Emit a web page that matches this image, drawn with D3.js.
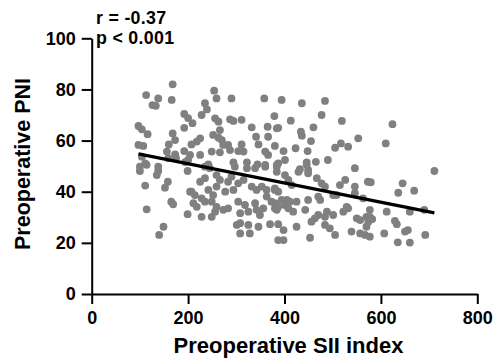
<!DOCTYPE html>
<html>
<head>
<meta charset="utf-8">
<script src="https://cdn.jsdelivr.net/npm/d3@7"></script>
<style>
  body { margin: 0; background: #fff; }
  svg { font-family: "Liberation Sans", Arial, sans-serif; font-weight: bold; }
  .axis path, .axis line { stroke: #000; stroke-width: 2px; }
  .axis text { fill: #000; font-weight: bold; }
  .dot { fill: #808080; }
  .fit { stroke: #000; stroke-width: 3.2px; }
</style>
</head>
<body>
<div id="chart"></div>
<script>
// SII index (x) and PNI (y) for each patient
const sii = [
  168, 113, 138, 166, 126, 133, 192, 200, 97, 104, 116, 192, 168, 173, 160, 97, 107, 192, 156, 173,
  175, 104, 111, 100, 138, 159, 200, 254, 259, 290, 358, 235, 239, 228, 256, 263, 287, 294, 311, 379,
  209, 266, 332, 365, 384, 252, 263, 270, 273, 283, 287, 341, 366, 225, 218, 207, 311, 346, 360, 366,
  380, 249, 266, 304, 315, 225, 204, 294, 322, 344, 360, 384, 235, 242, 194, 394, 436, 484, 413, 477,
  519, 387, 434, 436, 460, 455, 553, 505, 517, 532, 398, 423, 448, 401, 387, 384, 446, 465, 490, 432,
  449, 546, 624, 610, 711, 100, 114, 138, 135, 111, 158, 152, 199, 204, 165, 169, 114, 199, 149, 140,
  245, 297, 322, 339, 360, 384, 235, 225, 259, 266, 290, 283, 315, 304, 207, 214, 242, 259, 252, 277,
  294, 332, 342, 353, 363, 363, 380, 228, 235, 211, 218, 249, 259, 256, 273, 283, 304, 318, 308, 325,
  339, 342, 356, 349, 373, 380, 228, 249, 301, 308, 325, 346, 370, 387, 308, 328, 387, 429, 449, 446,
  401, 408, 415, 380, 387, 467, 477, 484, 526, 515, 546, 546, 573, 501, 508, 470, 474, 449, 394, 405,
  411, 425, 387, 401, 408, 563, 380, 384, 418, 443, 488, 484, 501, 522, 529, 532, 470, 463, 456, 550,
  557, 570, 574, 425, 484, 494, 398, 539, 557, 567, 505, 398, 453, 579, 645, 636, 669, 577, 577, 582,
  612, 660, 690, 629, 633, 570, 577, 607, 650, 656, 692, 635, 660
];
const pni = [
  82.0, 77.8, 76.5, 75.9, 73.9, 73.6, 70.4, 68.8, 65.7, 64.4, 62.5, 65.0, 62.8, 60.2, 58.5, 58.3, 57.9, 55.9, 55.7, 54.6,
  53.1, 53.7, 51.1, 49.8, 49.8, 53.1, 52.4, 79.5, 76.5, 76.5, 76.5, 74.6, 72.2, 70.0, 68.7, 67.4, 68.3, 67.7, 68.1, 69.6,
  66.8, 64.1, 65.2, 65.4, 64.8, 62.2, 61.1, 60.2, 58.3, 58.3, 56.3, 61.5, 61.5, 60.9, 59.6, 58.5, 58.5, 58.5, 55.7, 54.4,
  57.9, 55.7, 55.4, 55.9, 55.7, 54.4, 54.4, 51.5, 51.5, 50.7, 50.5, 50.5, 49.8, 50.7, 51.6, 75.9, 74.6, 75.5, 67.8, 70.0,
  67.7, 65.0, 63.5, 61.9, 65.2, 59.8, 60.9, 57.2, 58.9, 57.6, 55.9, 57.0, 55.9, 52.4, 51.1, 49.8, 51.5, 51.7, 52.4, 48.8,
  48.5, 49.2, 66.4, 58.9, 48.1, 48.1, 50.5, 48.1, 46.5, 42.4, 43.9, 41.6, 48.1, 40.0, 36.1, 35.1, 33.1, 31.2, 26.3, 23.1,
  49.2, 49.8, 49.2, 49.2, 49.8, 47.8, 45.3, 43.9, 46.5, 44.6, 45.9, 43.9, 44.6, 43.3, 40.0, 38.7, 40.7, 42.0, 38.7, 40.0,
  40.7, 42.0, 40.7, 42.0, 40.7, 38.1, 40.7, 37.4, 36.1, 35.5, 34.1, 36.1, 34.1, 32.2, 32.9, 33.5, 36.1, 34.8, 31.6, 32.2,
  35.5, 32.9, 33.5, 30.9, 36.1, 33.5, 30.2, 30.2, 27.0, 27.7, 27.0, 26.3, 27.3, 27.3, 23.7, 23.7, 21.1, 47.8, 47.2, 50.5,
  46.5, 44.6, 42.6, 41.3, 40.0, 45.3, 43.3, 42.0, 44.6, 42.6, 42.0, 39.4, 43.9, 38.7, 38.7, 38.1, 36.8, 36.8, 36.8, 36.8,
  36.1, 36.1, 34.1, 34.8, 33.5, 37.4, 35.5, 32.9, 32.2, 32.9, 32.2, 30.2, 30.9, 32.2, 34.1, 33.5, 30.9, 29.6, 28.3, 29.6,
  28.9, 30.2, 28.3, 26.3, 27.0, 25.7, 25.0, 24.4, 23.7, 23.1, 23.1, 21.1, 22.0, 43.7, 43.3, 39.6, 40.4, 32.9, 30.2, 29.3,
  32.2, 32.2, 32.9, 28.6, 27.3, 26.3, 22.4, 23.7, 24.4, 25.0, 23.1, 20.2, 20.1
];
// linear fit drawn over the SII range
const fitX = [97, 711];
const fitY = [54.8, 31.7];

const xTicks = [0, 200, 400, 600, 800];
const yTicks = [0, 20, 40, 60, 80, 100];
const stats = ["r = -0.37", "p < 0.001"];

const W = 494, H = 360;
const margin = { top: 38.3, right: 16.7, bottom: 66, left: 91.7 };

const x = d3.scaleLinear().domain([0, 800]).range([margin.left, W - margin.right]);
const y = d3.scaleLinear().domain([0, 100]).range([H - margin.bottom, margin.top]);

const svg = d3.select("#chart").append("svg")
  .attr("width", W)
  .attr("height", H);

// points
svg.append("g")
  .selectAll("circle")
  .data(sii.map((v, i) => [v, pni[i]]))
  .enter().append("circle")
  .attr("class", "dot")
  .attr("cx", d => x(d[0]))
  .attr("cy", d => y(d[1]))
  .attr("r", 3.9);

// regression line
svg.append("line")
  .attr("class", "fit")
  .attr("x1", x(fitX[0]))
  .attr("y1", y(fitY[0]))
  .attr("x2", x(fitX[1]))
  .attr("y2", y(fitY[1]));

// axes
svg.append("g")
  .attr("class", "axis axis--x")
  .attr("transform", `translate(0,${y(0)})`)
  .call(d3.axisBottom(x).tickValues(xTicks).tickSize(10).tickSizeOuter(0).tickPadding(7))
  .call(g => g.selectAll("text").style("font-size", "18px"));

svg.append("g")
  .attr("class", "axis axis--y")
  .attr("transform", `translate(${x(0)},0)`)
  .call(d3.axisLeft(y).tickValues(yTicks).tickSize(10).tickSizeOuter(0).tickPadding(6))
  .call(g => g.selectAll("text").style("font-size", "18px"));

// axis titles
svg.append("text")
  .attr("x", 288.5)
  .attr("y", 353.3)
  .attr("text-anchor", "middle")
  .style("font-size", "22px")
  .text("Preoperative SII index");

svg.append("text")
  .attr("transform", `translate(29.5,164) rotate(-90)`)
  .attr("text-anchor", "middle")
  .style("font-size", "21.5px")
  .text("Preoperative PNI");

// correlation stats
svg.append("g")
  .selectAll("text")
  .data(stats)
  .enter().append("text")
  .attr("x", 96)
  .attr("y", (d, i) => 24.2 + i * 19.3)
  .style("font-size", "17.8px")
  .style("letter-spacing", "0.3px")
  .text(d => d);
</script>
</body>
</html>
